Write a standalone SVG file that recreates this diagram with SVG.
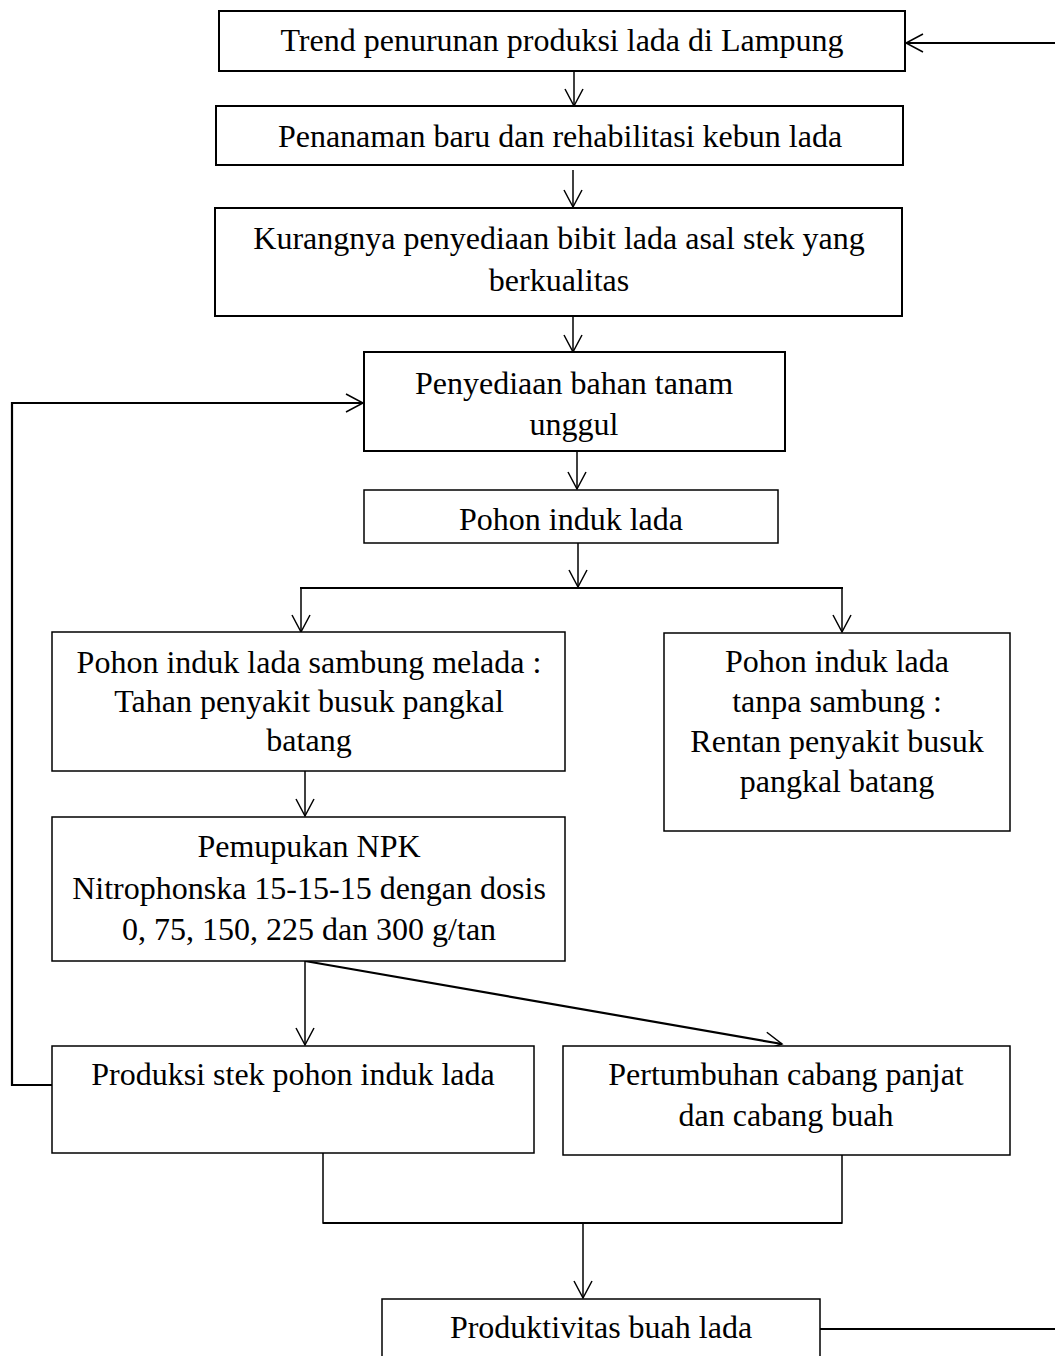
<svg xmlns="http://www.w3.org/2000/svg" width="1055" height="1356" viewBox="0 0 1055 1356">
<style>
  .box { fill: #fff; stroke: #000; stroke-width: 1.5; }
  .box.thick { stroke-width: 2; }
  .lbl { font-family: "Liberation Serif", "Times New Roman", serif; font-size: 32px; fill: #000; text-anchor: middle; }
  .ln { fill: none; stroke: #000; stroke-width: 1.5; }
  .ln.thick { stroke-width: 2.2; }
</style>
<defs>
  <marker id="ah" viewBox="-20 -11 22 22" markerWidth="22" markerHeight="22" refX="0" refY="0" orient="auto" markerUnits="userSpaceOnUse" overflow="visible">
    <path d="M-17,-9 L0,0 L-17,9" fill="none" stroke="#000" stroke-width="1.5"/>
  </marker>
</defs>
<rect width="1055" height="1356" fill="#fff"/>

<g id="connectors">
  <line class="ln thick" x1="1055" y1="43" x2="906" y2="43" marker-end="url(#ah)"/>
  <line class="ln" x1="574" y1="71" x2="574" y2="106" marker-end="url(#ah)"/>
  <line class="ln" x1="573" y1="170" x2="573" y2="207" marker-end="url(#ah)"/>
  <line class="ln" x1="573" y1="316" x2="573" y2="352" marker-end="url(#ah)"/>
  <polyline class="ln thick" points="52,1085 12,1085 12,403 363,403" marker-end="url(#ah)"/>
  <line class="ln" x1="577" y1="451" x2="577" y2="489" marker-end="url(#ah)"/>
  <line class="ln" x1="578" y1="543" x2="578" y2="587" marker-end="url(#ah)"/>
  <line class="ln thick" x1="300" y1="588" x2="843" y2="588"/>
  <line class="ln" x1="301" y1="588" x2="301" y2="632" marker-end="url(#ah)"/>
  <line class="ln" x1="842" y1="588" x2="842" y2="632" marker-end="url(#ah)"/>
  <line class="ln" x1="305" y1="771" x2="305" y2="816" marker-end="url(#ah)"/>
  <line class="ln" x1="305" y1="961" x2="305" y2="1045" marker-end="url(#ah)"/>
  <line class="ln thick" x1="305" y1="961" x2="782" y2="1044" marker-end="url(#ah)"/>
  <polyline class="ln" points="323,1153 323,1223 842,1223 842,1155"/>
  <line class="ln thick" x1="323" y1="1223" x2="842" y2="1223"/>
  <line class="ln" x1="583" y1="1223" x2="583" y2="1298" marker-end="url(#ah)"/>
  <line class="ln thick" x1="820" y1="1329" x2="1055" y2="1329"/>
</g>

<g id="n1">
  <rect class="box thick" x="219" y="11" width="686" height="60"/>
  <text class="lbl" x="562" y="51">Trend penurunan produksi lada di Lampung</text>
</g>
<g id="n2">
  <rect class="box thick" x="216" y="106" width="687" height="59"/>
  <text class="lbl" x="560" y="147">Penanaman baru dan rehabilitasi kebun lada</text>
</g>
<g id="n3">
  <rect class="box thick" x="215" y="208" width="687" height="108"/>
  <text class="lbl" x="559" y="249">Kurangnya penyediaan bibit lada asal stek yang</text>
  <text class="lbl" x="559" y="291">berkualitas</text>
</g>
<g id="n4">
  <rect class="box thick" x="364" y="352" width="421" height="99"/>
  <text class="lbl" x="574" y="394">Penyediaan bahan tanam</text>
  <text class="lbl" x="574" y="435">unggul</text>
</g>
<g id="n5">
  <rect class="box" x="364" y="490" width="414" height="53"/>
  <text class="lbl" x="571" y="530">Pohon induk lada</text>
</g>
<g id="n6">
  <rect class="box" x="52" y="632" width="513" height="139"/>
  <text class="lbl" x="309" y="673">Pohon induk lada sambung melada :</text>
  <text class="lbl" x="309" y="712">Tahan penyakit busuk pangkal</text>
  <text class="lbl" x="309" y="751">batang</text>
</g>
<g id="n7">
  <rect class="box" x="664" y="633" width="346" height="198"/>
  <text class="lbl" x="837" y="672">Pohon induk lada</text>
  <text class="lbl" x="837" y="712">tanpa sambung :</text>
  <text class="lbl" x="837" y="752">Rentan penyakit busuk</text>
  <text class="lbl" x="837" y="792">pangkal batang</text>
</g>
<g id="n8">
  <rect class="box" x="52" y="817" width="513" height="144"/>
  <text class="lbl" x="309" y="857">Pemupukan NPK</text>
  <text class="lbl" x="309" y="899">Nitrophonska 15-15-15 dengan dosis</text>
  <text class="lbl" x="309" y="940">0, 75, 150, 225 dan 300 g/tan</text>
</g>
<g id="n9">
  <rect class="box" x="52" y="1046" width="482" height="107"/>
  <text class="lbl" x="293" y="1085">Produksi stek pohon induk lada</text>
</g>
<g id="n10">
  <rect class="box" x="563" y="1046" width="447" height="109"/>
  <text class="lbl" x="786" y="1085">Pertumbuhan cabang panjat</text>
  <text class="lbl" x="786" y="1126">dan cabang buah</text>
</g>
<g id="n11">
  <rect class="box" x="382" y="1299" width="438" height="80"/>
  <text class="lbl" x="601" y="1338">Produktivitas buah lada</text>
</g>
</svg>
